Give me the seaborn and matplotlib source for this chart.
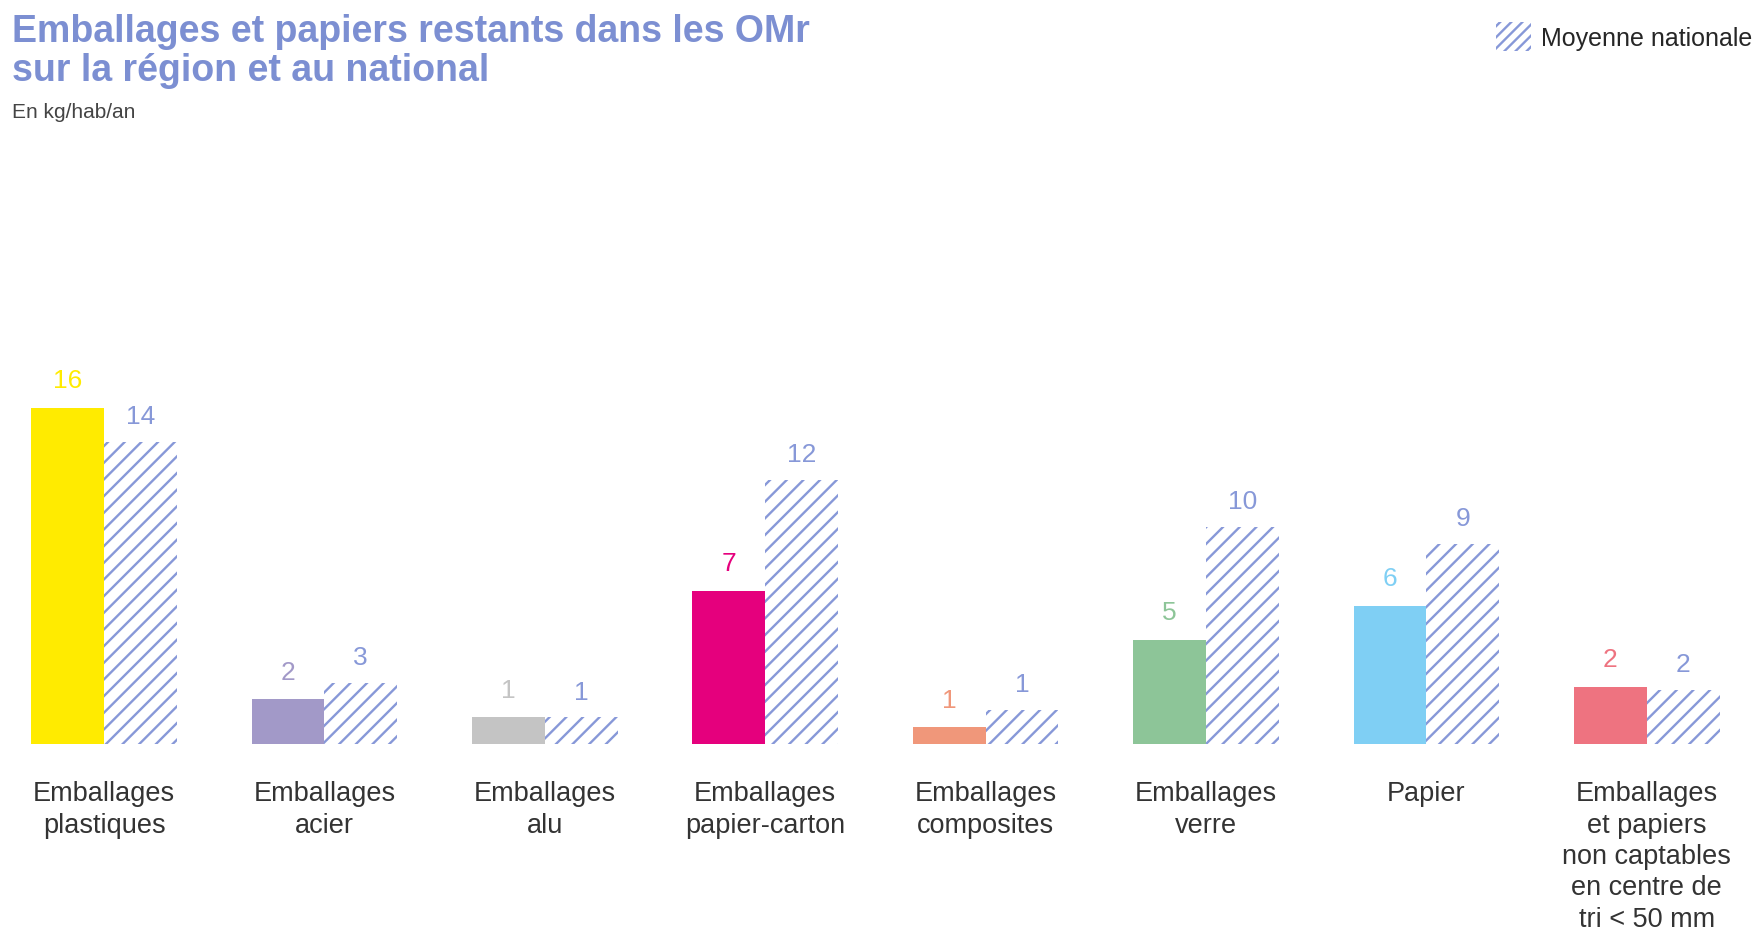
import matplotlib
matplotlib.use('Agg')
from matplotlib import pyplot as plt
from matplotlib.patches import Patch
import pandas as pd
import seaborn as sns

# Data (kg/hab/an), heights, labels as printed
categories = ['Emballages\nplastiques', 'Emballages\nacier', 'Emballages\nalu',
              'Emballages\npapier-carton', 'Emballages\ncomposites', 'Emballages\nverre',
              'Papier', 'Emballages\net papiers\nnon captables\nen centre de\ntri < 50 mm']
region_values = [15.8, 2.1, 1.25, 7.2, 0.8, 4.9, 6.5, 2.7]
national_values = [14.2, 2.85, 1.25, 12.4, 1.6, 10.2, 9.4, 2.55]
region_labels = ['16', '2', '1', '7', '1', '5', '6', '2']
national_labels = ['14', '3', '1', '12', '1', '10', '9', '2']
region_colors = ['#FFEB00', '#A299C8', '#C4C4C4', '#E5007D',
                 '#F0977A', '#8DC598', '#7FCFF4', '#EE7380']
hatch_color = '#8798D8'
title_color = '#7C8FD2'

sns.set_style('white')
plt.rcParams['font.family'] = ['Liberation Sans', 'DejaVu Sans']
plt.rcParams['hatch.linewidth'] = 1.7

df = pd.DataFrame({
    'categorie': categories * 2,
    'serie': ['Région'] * len(categories) + ['Moyenne nationale'] * len(categories),
    'valeur': region_values + national_values,
})

fig = plt.figure(figsize=(17.57, 9.37), dpi=100)
ax = fig.add_axes([0, 0.2049, 1, 0.5])

sns.barplot(data=df, x='categorie', y='valeur', hue='serie', width=0.66,
            gap=0, dodge=True, ax=ax, legend=False, errorbar=None)

# colour the bars: one colour per region bar, hatched national bars
reg_bars, nat_bars = ax.containers[0], ax.containers[1]
for bar, col in zip(reg_bars, region_colors):
    bar.set_facecolor(col)
    bar.set_edgecolor(col)
    bar.set_linewidth(0)
for bar in nat_bars:
    bar.set_facecolor('white')
    bar.set_edgecolor(hatch_color)
    bar.set_hatch('//')
    bar.set_linewidth(0)

# value labels
for bar, lab, col in zip(reg_bars, region_labels, region_colors):
    ax.annotate(lab, (bar.get_x() + bar.get_width() / 2, bar.get_height()),
                xytext=(0, 11), textcoords='offset points', ha='center', va='bottom',
                fontsize=19, color=col)
for bar, lab in zip(nat_bars, national_labels):
    ax.annotate(lab, (bar.get_x() + bar.get_width() / 2, bar.get_height()),
                xytext=(0, 10), textcoords='offset points', ha='center', va='bottom',
                fontsize=19, color=hatch_color)

ax.set_xlim(-0.472, 7.5)
ax.set_ylim(0, 22.0)
ax.set_xlabel('')
ax.set_ylabel('')
ax.set_yticks([])
ax.tick_params(axis='x', length=0, pad=26, labelsize=19.5, labelcolor='#333333')
for t in ax.get_xticklabels():
    t.set_linespacing(1.27)
    t.set_va('top')
sns.despine(ax=ax, left=True, bottom=True)

# title block
fig.text(0.007, 0.985, 'Emballages et papiers restants dans les OMr\nsur la région et au national',
         fontsize=27, fontweight='bold', color=title_color, va='top', ha='left', linespacing=1.1)
fig.text(0.007, 0.89, 'En kg/hab/an', fontsize=15, color='#444444', va='top', ha='left')

# legend
handle = Patch(facecolor='white', edgecolor=hatch_color, hatch='///', linewidth=0)
fig.legend([handle], ['Moyenne nationale'], loc='upper right', bbox_to_anchor=(1.005, 0.99),
           frameon=False, fontsize=18, handlelength=1.4, handleheight=1.4,
           handletextpad=0.4, borderaxespad=0.15)

fig.savefig('out.png', dpi=100, facecolor='white')
